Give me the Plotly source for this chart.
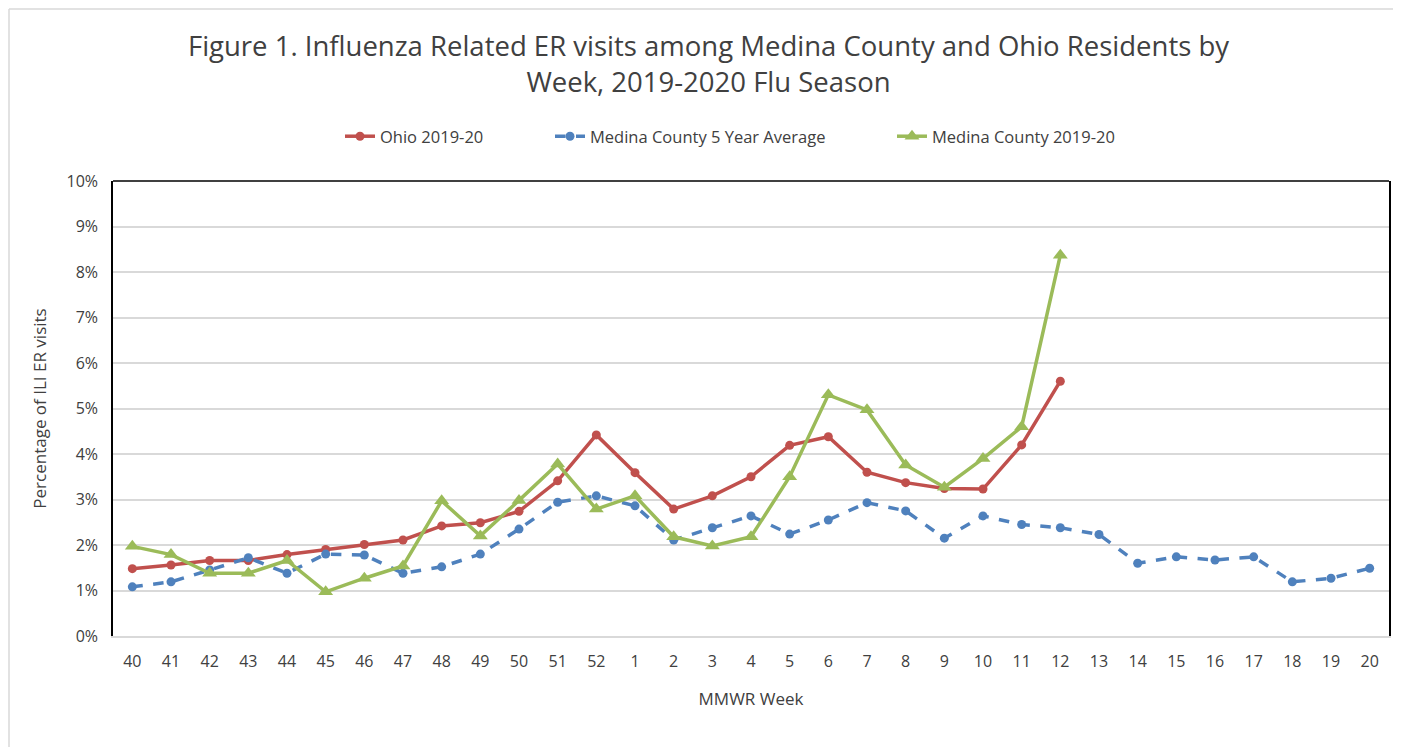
import plotly.graph_objects as go

weeks = ["40", "41", "42", "43", "44", "45", "46", "47", "48", "49", "50", "51", "52",
         "1", "2", "3", "4", "5", "6", "7", "8", "9", "10", "11", "12", "13", "14",
         "15", "16", "17", "18", "19", "20"]

ohio = [1.48, 1.56, 1.66, 1.66, 1.79, 1.90, 2.01, 2.11, 2.42, 2.49, 2.74, 3.41, 4.42,
        3.59, 2.79, 3.08, 3.50, 4.19, 4.38, 3.60, 3.37, 3.24, 3.23, 4.20, 5.60]

medina_avg = [1.08, 1.19, 1.45, 1.72, 1.38, 1.80, 1.78, 1.38, 1.52, 1.80, 2.35, 2.94, 3.08,
              2.86, 2.11, 2.38, 2.64, 2.24, 2.55, 2.93, 2.75, 2.15, 2.64, 2.45, 2.38, 2.23,
              1.60, 1.74, 1.67, 1.74, 1.19, 1.27, 1.49]

medina = [1.97, 1.79, 1.38, 1.38, 1.66, 0.97, 1.27, 1.54, 2.97, 2.20, 2.98, 3.78, 2.79,
          3.08, 2.18, 1.98, 2.18, 3.50, 5.30, 4.97, 3.76, 3.27, 3.90, 4.60, 8.37]

def frac(vals):
    return [v / 100.0 for v in vals]

red = "#C0504D"
blue = "#4F81BD"
green = "#9BBB59"
txt = "#404040"
font = "Open Sans"
W, H = 1401, 747

fig = go.Figure()
fig.add_trace(go.Scatter(
    x=weeks[:len(ohio)], y=frac(ohio), name="Ohio 2019-20", mode="lines+markers",
    line=dict(color=red, width=3.5), marker=dict(symbol="circle", size=9, color=red),
    legend="legend"))
fig.add_trace(go.Scatter(
    x=weeks, y=frac(medina_avg), name="Medina County 5 Year Average", mode="lines+markers",
    line=dict(color=blue, width=3.5, dash="dash"), marker=dict(symbol="circle", size=9, color=blue),
    legend="legend2"))
fig.add_trace(go.Scatter(
    x=weeks[:len(medina)], y=frac(medina), name="Medina County 2019-20", mode="lines+markers",
    line=dict(color=green, width=3.5), marker=dict(symbol="triangle-up", size=13, color=green),
    legend="legend3"))

def leg(px):
    return dict(orientation="h", x=px / W, xanchor="left", xref="container",
                y=0.828, yanchor="middle", yref="container",
                font=dict(family=font, size=16.5, color=txt), bgcolor="rgba(0,0,0,0)")

fig.update_layout(
    width=W, height=H,
    margin=dict(l=105, r=20, t=173, b=119, autoexpand=False),
    paper_bgcolor="white", plot_bgcolor="white",
    font=dict(family=font, color=txt),
    title=dict(
        text="Figure 1. Influenza Related ER visits among Medina County and Ohio Residents by<br>Week, 2019-2020 Flu Season",
        x=0.5, xanchor="center", xref="container", y=0.9355, yanchor="top", yref="container",
        automargin=False,
        font=dict(family=font, size=27.5, color=txt)),
    legend=leg(332),
    legend2=leg(542),
    legend3=leg(884),
    showlegend=True,
    xaxis=dict(
        type="category", categoryorder="array", categoryarray=weeks, automargin=False,
        showline=True, linecolor="#D9D9D9", linewidth=1.5,
        showgrid=False, ticks="", ticklabelstandoff=10, tickfont=dict(size=16, color=txt),
        title=dict(text="MMWR Week", font=dict(size=17, color=txt), standoff=22),
        range=[-0.5, len(weeks) - 0.5]),
    yaxis=dict(
        range=[0, 0.1], dtick=0.01, tick0=0, tickformat=".0%", automargin=False,
        showgrid=True, gridcolor="#D9D9D9", gridwidth=1.5,
        showline=True, linecolor="black", linewidth=1.5, mirror=True,
        zeroline=False, ticks="", ticklabelstandoff=10, tickfont=dict(size=16, color=txt),
        title=dict(text="Percentage of ILI ER visits", font=dict(size=17, color=txt), standoff=16)),
    shapes=[
        dict(type="line", xref="paper", yref="paper", x0=0, x1=1, y0=1, y1=1,
             line=dict(color="black", width=1.5)),
        dict(type="line", xref="paper", yref="paper", x0=-0.0815, x1=-0.0815, y0=-0.26, y1=1.378,
             line=dict(color="#D9D9D9", width=1.5)),
        dict(type="line", xref="paper", yref="paper", x0=-0.0815, x1=1.0075, y0=1.378, y1=1.378,
             line=dict(color="#D9D9D9", width=1.5)),
    ],
)

fig.write_html("out.html")
